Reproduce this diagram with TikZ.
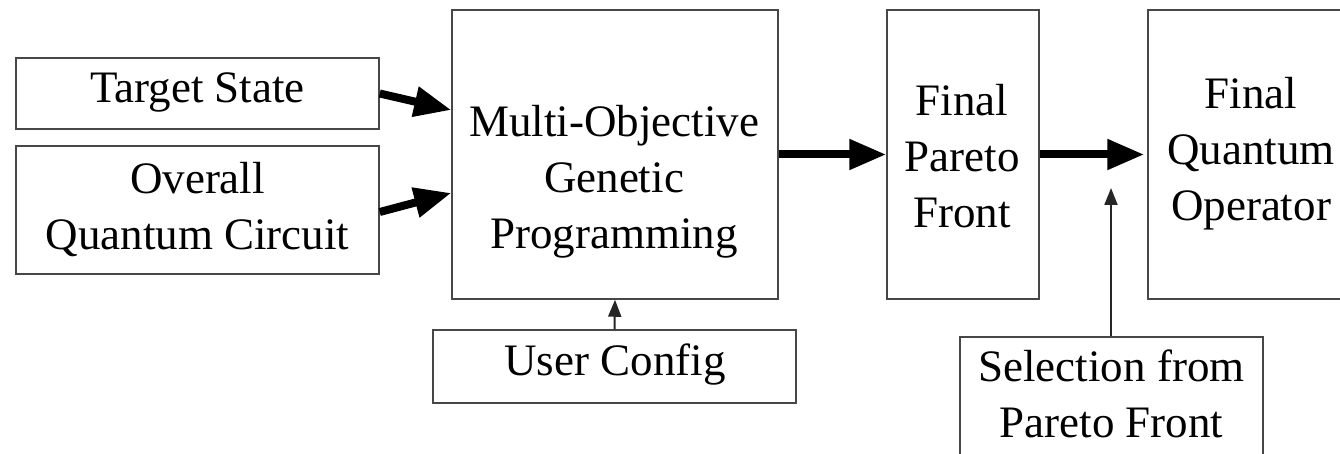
\documentclass[tikz,border=0pt]{standalone}
\usepackage{fontspec}
\setmainfont{Liberation Serif}
\usetikzlibrary{arrows.meta}
\tikzset{
  box/.style={draw=black!72, line width=1.5pt, rectangle, inner sep=0pt, fill=none},
  txt/.style={inner sep=0pt, align=center, font=\fontsize{45}{56}\selectfont},
  heavy/.style={line width=8pt, -{Triangle[length=37pt,width=29pt]}},
  thin/.style={line width=2pt, draw=black!85, -{Triangle[length=17pt,width=13pt]}}
}
\begin{document}
\begin{tikzpicture}[x=1pt,y=-1pt]
\useasboundingbox (0,0) rectangle (1340,454);
\clip (0,0) rectangle (1340,454);
\fill[white] (0,0) rectangle (1340,454);
% boxes
\node[box, minimum width=363pt, minimum height=71pt] (target) at (197.5,93.5) {};
\node[box, minimum width=363pt, minimum height=128pt] (overall) at (197.5,210) {};
\node[box, minimum width=326pt, minimum height=289pt] (mogp) at (615,154.5) {};
\node[box, minimum width=363pt, minimum height=73pt] (uc) at (614.5,366.5) {};
\node[box, minimum width=152pt, minimum height=289pt] (pareto) at (963,154.5) {};
\node[box, minimum width=206pt, minimum height=289pt] (fqo) at (1251,154.5) {};
\node[box, minimum width=303pt, minimum height=133pt] (sel) at (1111.5,403.5) {};
% texts
\node[txt] (targetT) at (197.5,92.5) {Target State};
\node[txt] (overallT) at (197.5,209.5) {Overall\\Quantum Circuit};
\node[txt] (mogpT) at (614,182) {Multi-Objective\\Genetic\\Programming};
\node[txt] (ucT) at (615,365) {User Config};
\node[txt] (paretoT) at (962,156) {Final\\Pareto\\Front};
\node[txt] (fqoT) at (1251,153.5) {Final\\Quantum\\Operator};
\node[txt] (selT) at (1111.5,394) {Selection from\\Pareto Front};
% connectors
\draw[heavy] (target.east) -- ([yshift=44.5pt]mogp.west);
\draw[heavy] ([yshift=-2pt]overall.east) -- ([yshift=-38.5pt]mogp.west);
\draw[heavy] (mogp.east) -- (pareto.west);
\draw[heavy] (pareto.east) -- ([xshift=-3pt]fqo.west);
\draw[thin] (uc.north) -- (mogp.south);
\coordinate (selend) at (1111,188);
\draw[thin] (sel.north -| selend) -- (selend);
\end{tikzpicture}
\end{document}
